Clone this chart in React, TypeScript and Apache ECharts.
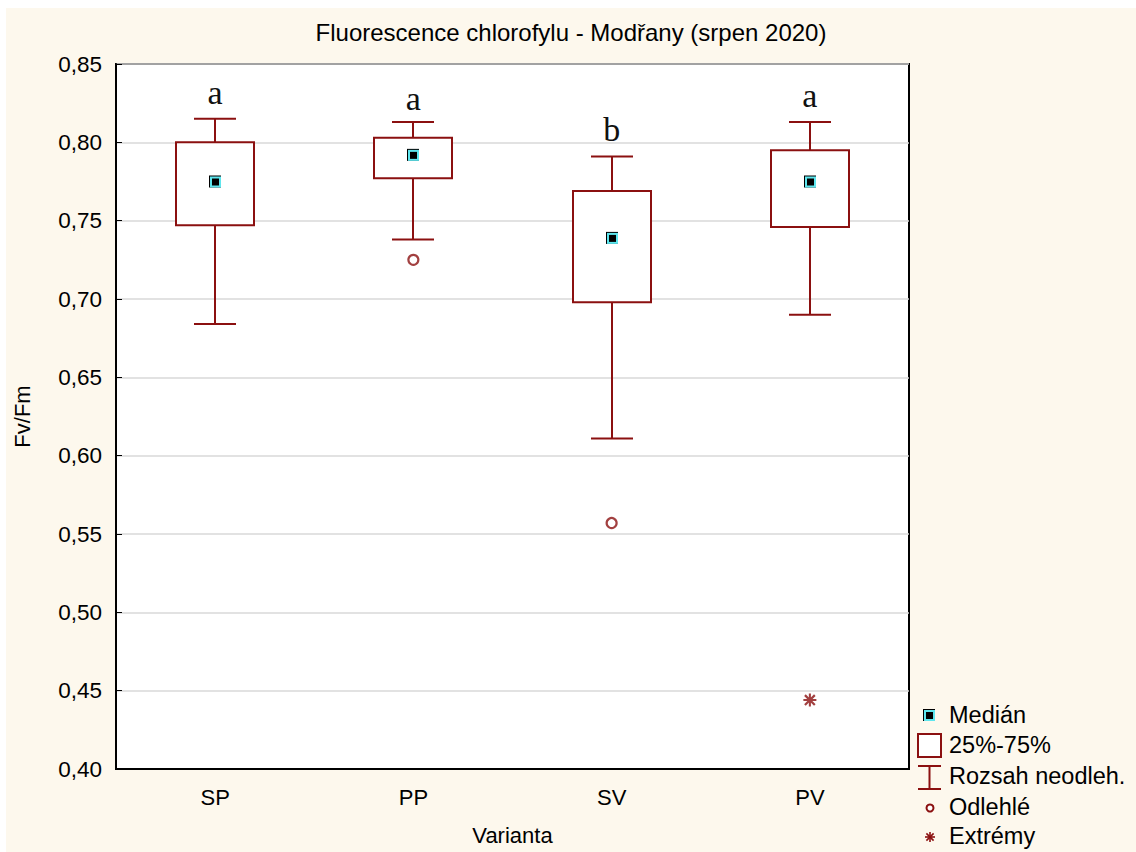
import React, { useEffect, useRef } from 'react';
import * as echarts from 'echarts';

const categories = ['SP', 'PP', 'SV', 'PV'];
const whiskerLow = [0.684, 0.738, 0.611, 0.69];
const q1 = [0.747, 0.777, 0.698, 0.746];
const medians = [0.775, 0.792, 0.739, 0.775];
const q3 = [0.8, 0.803, 0.769, 0.795];
const whiskerHigh = [0.815, 0.813, 0.791, 0.813];
const outliers: [string, number][] = [['PP', 0.725], ['SV', 0.557]];
const extremes: [string, number][] = [['PV', 0.444]];
const groupLetters = ['a', 'a', 'b', 'a'];
const letterPos = [0.8315, 0.8277, 0.8082, 0.8302];
const legendLabels = ['Medián', '25%-75%', 'Rozsah neodleh.', 'Odlehlé', 'Extrémy'];

const RED = '#8b1010';
const CYAN = '#5ee6ee';
const FONT = '"Liberation Sans", Arial, sans-serif';
const ASTERISK =
  'path://M0 4.2H10V5.8H0Z M4.2 0H5.8V10H4.2Z M0.6 1.8L1.8 0.6L9.4 8.2L8.2 9.4Z M8.2 0.6L9.4 1.8L1.8 9.4L0.6 8.2Z';

function medianMarker(x: number, y: number) {
  return [
    { type: 'rect', shape: { x: x - 6, y: y - 6, width: 12, height: 12 }, style: { fill: '#000' } },
    { type: 'rect', shape: { x: x - 5, y: y - 5, width: 11, height: 11 }, style: { fill: CYAN } },
    { type: 'rect', shape: { x: x - 3, y: y - 3, width: 7, height: 7 }, style: { fill: '#000' } },
  ];
}

export default function App() {
  const ref = useRef<HTMLDivElement>(null);
  useEffect(() => {
    if (!ref.current) return;
    const chart = echarts.init(ref.current, null, { renderer: 'svg' });
    const boxData = categories.map((_, i) => [i, whiskerLow[i], q1[i], medians[i], q3[i], whiskerHigh[i]]);
    const letterData = categories.map((_, i) => [i, letterPos[i]]);

    const legendX = 923;
    const legendTextX = 943;
    const rows = [707, 737, 768, 799, 828];
    const legendGraphics: any[] = [];
    medianMarker(legendX, rows[0]).forEach((m) => legendGraphics.push(m));
    legendGraphics.push({
      type: 'rect',
      shape: { x: 912, y: 726, width: 23, height: 23 },
      style: { fill: '#fff', stroke: RED, lineWidth: 2 },
    });
    legendGraphics.push({ type: 'line', shape: { x1: 923.5, y1: 757, x2: 923.5, y2: 781 }, style: { stroke: RED, lineWidth: 2 } });
    legendGraphics.push({ type: 'line', shape: { x1: 912, y1: 758, x2: 935, y2: 758 }, style: { stroke: RED, lineWidth: 2 } });
    legendGraphics.push({ type: 'line', shape: { x1: 912, y1: 781, x2: 935, y2: 781 }, style: { stroke: RED, lineWidth: 2 } });
    legendGraphics.push({ type: 'circle', shape: { cx: 924, cy: 800, r: 3.5 }, style: { fill: '#fff', stroke: RED, lineWidth: 2 } });
    [[0, -5, 0, 5], [-5, 0, 5, 0], [-3.6, -3.6, 3.6, 3.6], [-3.6, 3.6, 3.6, -3.6]].forEach((s) =>
      legendGraphics.push({
        type: 'line',
        shape: { x1: 924 + s[0], y1: 829 + s[1], x2: 924 + s[2], y2: 829 + s[3] },
        style: { stroke: RED, lineWidth: 1.6 },
      })
    );
    legendLabels.forEach((t, i) =>
      legendGraphics.push({
        type: 'text',
        x: legendTextX,
        y: rows[i],
        style: { text: t, fill: '#000', font: `23.5px ${FONT}`, verticalAlign: 'middle', align: 'left' },
      })
    );

    chart.setOption({
      animation: false,
      backgroundColor: '#fdf8ed',
      title: {
        text: 'Fluorescence chlorofylu - Modřany (srpen 2020)',
        left: 'center',
        top: 12,
        padding: 0,
        textStyle: { fontFamily: FONT, fontSize: 24, fontWeight: 'normal', color: '#000' },
      },
      grid: {
        left: 110,
        top: 56,
        right: 227,
        bottom: 83,
        show: true,
        outerBoundsMode: 'none',
        containLabel: false,
        backgroundColor: '#fff',
        borderColor: '#000',
        borderWidth: 2,
      },
      xAxis: {
        type: 'category',
        data: categories,
        name: 'Varianta',
        nameLocation: 'middle',
        nameGap: 55,
        nameTextStyle: { fontFamily: FONT, fontSize: 22, color: '#000' },
        axisLine: { lineStyle: { color: '#000', width: 2 } },
        axisTick: { inside: true, alignWithLabel: true, length: 6, lineStyle: { color: '#000', width: 1 } },
        axisLabel: { fontFamily: FONT, fontSize: 22, color: '#000', margin: 17 },
        splitLine: { show: false },
      },
      yAxis: {
        type: 'value',
        min: 0.4,
        max: 0.85,
        interval: 0.05,
        name: 'Fv/Fm',
        nameLocation: 'middle',
        nameGap: 83,
        nameTextStyle: { fontFamily: FONT, fontSize: 22, color: '#000' },
        axisLine: { show: true, lineStyle: { color: '#000', width: 2 } },
        axisTick: { show: true, inside: true, length: 6, lineStyle: { color: '#000', width: 1 } },
        axisLabel: {
          fontFamily: FONT,
          fontSize: 22.5,
          color: '#000',
          margin: 14,
          formatter: (v: number) => v.toFixed(2).replace('.', ','),
        },
        splitLine: { show: true, lineStyle: { color: '#d9d9d9', width: 1.5 } },
      },
      series: [
        {
          type: 'custom',
          name: 'box',
          data: boxData,
          encode: { x: 0, y: [1, 2, 3, 4, 5] },
          renderItem: (params: any, api: any) => {
            const i = api.value(0);
            const pLow = api.coord([i, api.value(1)]);
            const pQ1 = api.coord([i, api.value(2)]);
            const pMed = api.coord([i, api.value(3)]);
            const pQ3 = api.coord([i, api.value(4)]);
            const pHigh = api.coord([i, api.value(5)]);
            const x = Math.round(pLow[0]);
            const bw = 78;
            const cw = 42;
            const ls = { stroke: RED, lineWidth: 2 };
            return {
              type: 'group',
              children: [
                { type: 'line', shape: { x1: x, y1: pHigh[1], x2: x, y2: pQ3[1] }, style: ls },
                { type: 'line', shape: { x1: x, y1: pQ1[1], x2: x, y2: pLow[1] }, style: ls },
                { type: 'line', shape: { x1: x - cw / 2, y1: pHigh[1], x2: x + cw / 2, y2: pHigh[1] }, style: ls },
                { type: 'line', shape: { x1: x - cw / 2, y1: pLow[1], x2: x + cw / 2, y2: pLow[1] }, style: ls },
                {
                  type: 'rect',
                  shape: { x: x - bw / 2, y: pQ3[1], width: bw, height: pQ1[1] - pQ3[1] },
                  style: { fill: '#fff', stroke: RED, lineWidth: 2 },
                },
                ...medianMarker(x, pMed[1]),
              ],
            };
          },
          z: 3,
        },
        {
          type: 'custom',
          name: 'letters',
          data: letterData,
          encode: { x: 0, y: 1 },
          renderItem: (params: any, api: any) => {
            const p = api.coord([api.value(0), api.value(1)]);
            return {
              type: 'text',
              x: p[0],
              y: p[1],
              style: {
                text: groupLetters[params.dataIndex],
                fill: '#111',
                font: '34px "Liberation Serif", "Times New Roman", serif',
                align: 'center',
                verticalAlign: 'middle',
              },
            };
          },
          z: 4,
        },
        {
          type: 'scatter',
          name: 'Odlehlé',
          data: outliers,
          symbol: 'circle',
          symbolSize: 10,
          itemStyle: { color: '#fff', borderColor: RED, borderWidth: 2.2 },
          z: 5,
        },
        {
          type: 'scatter',
          name: 'Extrémy',
          data: extremes,
          symbol: ASTERISK,
          symbolSize: 13,
          itemStyle: { color: RED },
          z: 5,
        },
      ],
      graphic: legendGraphics,
    });
    return () => chart.dispose();
  }, []);
  return (
    <div
      ref={ref}
      style={{ position: 'fixed', left: 6, top: 8, width: 1130, height: 844, background: '#fdf8ed' }}
    />
  );
}
